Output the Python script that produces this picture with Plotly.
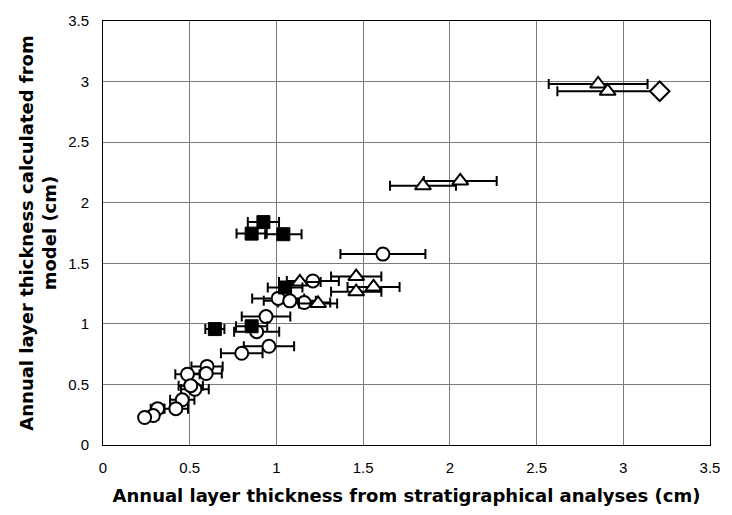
import plotly.graph_objects as go

# Filled squares
sq_x = [0.925, 0.857, 1.04, 1.05, 0.857, 0.645]
sq_y = [1.84, 1.745, 1.74, 1.30, 0.98, 0.957]
sq_err = [0.09, 0.087, 0.105, 0.10, 0.09, 0.055]

# Open circles
ci_x = [1.614, 1.21, 1.01, 1.077, 1.16, 0.94, 0.886, 0.957, 0.80, 0.60, 0.595,
        0.487, 0.53, 0.506, 0.457, 0.42, 0.315, 0.29, 0.24]
ci_y = [1.576, 1.354, 1.21, 1.19, 1.176, 1.06, 0.935, 0.815, 0.757, 0.649, 0.59,
        0.584, 0.46, 0.49, 0.373, 0.30, 0.30, 0.243, 0.227]
ci_err = [0.245, 0.15, 0.15, 0.15, 0.15, 0.14, 0.13, 0.145, 0.12, 0.09, 0.09,
          0.07, 0.08, 0.07, 0.07, 0.07, 0.04, 0.03, 0.02]

# Open triangles
tr_x = [2.855, 2.91, 1.845, 2.06, 1.46, 1.56, 1.46, 1.135, 1.24]
tr_y = [2.98, 2.92, 2.14, 2.18, 1.39, 1.305, 1.265, 1.346, 1.168]
tr_err = [0.285, 0.29, 0.19, 0.21, 0.145, 0.15, 0.145, 0.12, 0.11]

# Open diamond
di_x = [3.21]
di_y = [2.92]

x_ticks = [0, 0.5, 1, 1.5, 2, 2.5, 3, 3.5]
y_ticks = [0, 0.5, 1, 1.5, 2, 2.5, 3, 3.5]


def err(values):
    return dict(type="data", array=values, symmetric=True, color="black",
                thickness=2, width=5)


fig = go.Figure()
fig.add_trace(go.Scatter(
    x=ci_x, y=ci_y, mode="markers", error_x=err(ci_err),
    marker=dict(symbol="circle", size=13, color="white",
                line=dict(color="black", width=2))))
fig.add_trace(go.Scatter(
    x=tr_x, y=tr_y, mode="markers", error_x=err(tr_err),
    marker=dict(symbol="triangle-up", size=14, color="white",
                line=dict(color="black", width=2))))
fig.add_trace(go.Scatter(
    x=sq_x, y=sq_y, mode="markers", error_x=err(sq_err),
    marker=dict(symbol="square", size=13, color="black",
                line=dict(color="black", width=1))))
fig.add_trace(go.Scatter(
    x=di_x, y=di_y, mode="markers",
    marker=dict(symbol="diamond", size=15, color="white",
                line=dict(color="black", width=2))))

axis_common = dict(
    showgrid=True, gridcolor="#7a7a7a", gridwidth=1,
    showline=True, linecolor="black", linewidth=1, mirror=True,
    zeroline=False, ticks="", range=[0, 3.5],
    tickfont=dict(family="Liberation Sans", size=15, color="black"),
)
title_font = dict(family="DejaVu Sans", size=18, color="black")

fig.update_layout(
    width=732, height=515,
    margin=dict(l=103, r=16, t=14, b=70),
    paper_bgcolor="white", plot_bgcolor="white",
    showlegend=False,
    xaxis=dict(axis_common, tickvals=x_ticks, ticklabelstandoff=9,
               ticktext=[f"{v:g}" for v in x_ticks],
               title=dict(text="<b>Annual layer thickness from stratigraphical analyses (cm)</b>",
                          font=title_font, standoff=14)),
    yaxis=dict(axis_common, tickvals=y_ticks, ticklabelstandoff=10,
               ticktext=[f"{v:g}" for v in y_ticks],
               title=dict(text="<b>Annual layer thickness calculated from<br>model (cm)</b>",
                          font=title_font, standoff=6)),
)

fig.write_html("out.html")
